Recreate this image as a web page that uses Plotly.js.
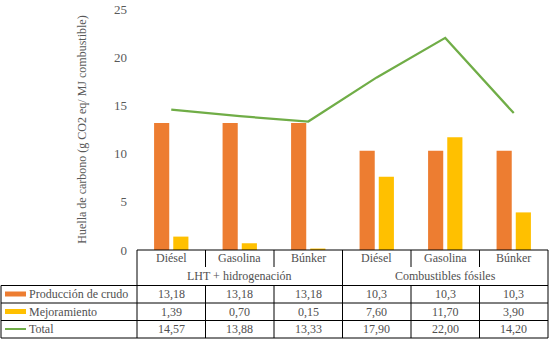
<!DOCTYPE html>
<html>
<head>
<meta charset="utf-8">
<script src="https://cdn.plot.ly/plotly-3.0.1.min.js"></script>
<style>
  body { margin: 0; background: #fff; }
  #chart { width: 549px; height: 339px; }
</style>
</head>
<body>
<div id="chart"></div>
<script>
// DATA
const categories = ['Diésel', 'Gasolina', 'Búnker', 'Diésel', 'Gasolina', 'Búnker']
const groups = ['LHT + hidrogenación', 'Combustibles fósiles']
const produccion = [13.18, 13.18, 13.18, 10.3, 10.3, 10.3]
const mejoramiento = [1.39, 0.70, 0.15, 7.60, 11.70, 3.90]
const total = [14.57, 13.88, 13.33, 17.90, 22.00, 14.20]
const yTicks = [0, 5, 10, 15, 20, 25]

const seriesNames = ['Producción de crudo', 'Mejoramiento', 'Total']
const colors = ['#ED7D31', '#FFC000', '#70AD47']

// plot box in pixels (left 137, right 548, top 9, bottom 250)
const L = 137
const R = 548
const T = 9
const B = 250
const px = (x) => (x - L) / (R - L)
const py = (y) => (B - y) / (B - T)

const xs = categories.map((c, i) => i)
const font = 'Liberation Serif'
const textColor = '#505050'

const traces = [
  { x: xs, y: produccion, type: 'bar', name: seriesNames[0], marker: { color: colors[0] } },
  { x: xs, y: mejoramiento, type: 'bar', name: seriesNames[1], marker: { color: colors[1] } },
  { x: xs, y: total, type: 'scatter', mode: 'lines', name: seriesNames[2], line: { color: colors[2], width: 2.2 } },
]

// table text
const fmt = (v, d) => (d == null ? String(v) : v.toFixed(d)).replace('.', ',')
const annotations = []
const cell = (x, y, text, extra) => annotations.push(Object.assign({
  x, y: py(y), xref: 'x', yref: 'paper', yanchor: 'middle', xanchor: 'center', text, showarrow: false,
}, extra || {}))

categories.forEach((c, i) => cell(i, 258, c))
groups.forEach((g, j) => cell(j * 3 + 1, 275.5, g))
const rows = [[produccion, null], [mejoramiento, 2], [total, 2]]
const rowY = [294, 311.5, 329]
rows.forEach(([vals, d], r) => {
  vals.forEach((v, i) => cell(i, rowY[r], fmt(v, d)))
  cell(px(27), rowY[r], seriesNames[r], { xref: 'paper', xanchor: 'left' })
})

// table lines + legend keys
const line = { color: '#000', width: 1 }
const shapes = []
const hline = (y, x0, x1) => shapes.push({ type: 'line', xref: 'paper', yref: 'paper', x0: px(x0), x1: px(x1), y0: py(y), y1: py(y), line })
const vline = (x, y0, y1) => shapes.push({ type: 'line', xref: 'paper', yref: 'paper', x0: px(x), x1: px(x), y0: py(y0), y1: py(y1), line })
hline(250, L, R)
;[285.5, 303, 320.5, 338].forEach((y) => hline(y, 1, R))
vline(1, 285.5, 338)
vline(L, 250, 338)
vline(R, 250, 338)
const colW = (R - L) / 6
for (let i = 1; i < 6; i += 1) {
  if (i === 3) {
    vline(L + colW * i, 250, 338)
  } else {
    vline(L + colW * i, 250, 267)
    vline(L + colW * i, 285.5, 338)
  }
}
rowY.forEach((y, r) => {
  if (r < 2) {
    shapes.push({ type: 'rect', xref: 'paper', yref: 'paper', x0: px(5), x1: px(26), y0: py(y + 2.5), y1: py(y - 2.5), fillcolor: colors[r], line: { width: 0 } })
  } else {
    shapes.push({ type: 'line', xref: 'paper', yref: 'paper', x0: px(5), x1: px(26), y0: py(y), y1: py(y), line: { color: colors[r], width: 2 } })
  }
})

const layout = {
  width: 549,
  height: 339,
  margin: { l: L, r: 549 - R, t: T, b: 339 - B, pad: 0 },
  paper_bgcolor: '#fff',
  plot_bgcolor: '#fff',
  showlegend: false,
  barmode: 'group',
  bargap: 0.44,
  bargroupgap: 0.21,
  font: { family: font, size: 12, color: textColor },
  xaxis: {
    range: [-0.5, 5.5],
    showticklabels: false,
    showgrid: false,
    zeroline: false,
    showline: false,
    ticks: '',
    fixedrange: true,
  },
  yaxis: {
    range: [0, 25],
    tickvals: yTicks,
    ticks: '',
    showgrid: false,
    zeroline: false,
    showline: false,
    ticklabelstandoff: 9,
    tickfont: { family: font, size: 13, color: '#595959' },
    title: { text: 'Huella de carbono (g CO2 eq/ MJ combustible)', font: { family: font, size: 12, color: '#595959' }, standoff: 24 },
  },
  annotations,
  shapes,
}

Plotly.newPlot('chart', traces, layout, { displayModeBar: false, staticPlot: true })
</script>
</body>
</html>
